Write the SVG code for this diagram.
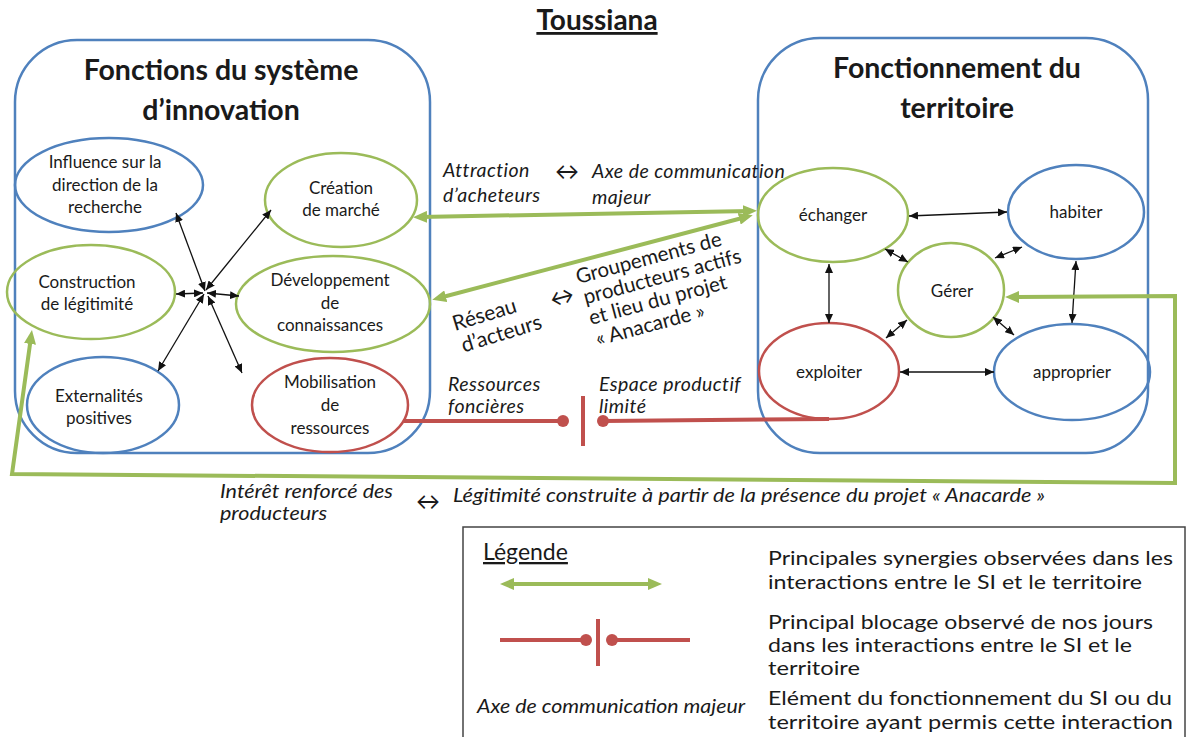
<svg xmlns="http://www.w3.org/2000/svg" width="1187" height="737" viewBox="0 0 1187 737">
<defs>
<style>
text{font-family:Lato,"Liberation Sans",sans-serif;fill:#1a1a1a}
.n{font-size:17px;text-anchor:middle}
.h{font-size:28.5px;font-weight:bold;text-anchor:middle}
.it{font-size:19.5px;font-style:italic;letter-spacing:0.45px}
.bt{font-size:19.5px;font-style:italic}
.lg{font-size:19.5px}
.ar{font-size:24px;text-anchor:middle}
.box{fill:none;stroke:#4F81BD;stroke-width:2.5}
.eg{fill:none;stroke:#9BBB59;stroke-width:2.5}
.eb{fill:none;stroke:#4F81BD;stroke-width:2.5}
.er{fill:none;stroke:#C0504D;stroke-width:2.5}
.bk{stroke:#111;stroke-width:1.3;fill:none;marker-start:url(#ab);marker-end:url(#ab)}
.gr{stroke:#9BBB59;stroke-width:4;fill:none}
.rd{stroke:#C0504D;stroke-width:4;fill:none}
.dot{fill:#C0504D}
</style>
<marker id="ab" viewBox="0 0 9 8" refX="9" refY="4" markerWidth="9" markerHeight="8" markerUnits="userSpaceOnUse" orient="auto-start-reverse">
<path d="M0,0 L9,4 L0,8 z" fill="#111"/>
</marker>
<marker id="ag" viewBox="0 0 14 12" refX="7" refY="6" markerWidth="14" markerHeight="12" markerUnits="userSpaceOnUse" orient="auto-start-reverse">
<path d="M0,0 L14,6 L0,12 z" fill="#9BBB59"/>
</marker>
</defs>

<text x="597" y="30" font-size="28" font-weight="bold" text-anchor="middle" text-decoration="underline">Toussiana</text>

<g id="box-si">
<rect class="box" x="15" y="40" width="415" height="413" rx="62" ry="62"/>
<text class="h" x="221" y="80">Fonctions du système</text>
<text class="h" x="221" y="120">d’innovation</text>
</g>
<g id="box-territoire">
<rect class="box" x="758" y="38" width="390" height="415" rx="62" ry="62"/>
<text class="h" x="957" y="78">Fonctionnement du</text>
<text class="h" x="957" y="118">territoire</text>
</g>

<g id="influence">
<ellipse class="eb" cx="109" cy="185" rx="94" ry="47"/>
<text class="n" x="105" y="168">Influence sur la</text>
<text class="n" x="105" y="191">direction de la</text>
<text class="n" x="105" y="213">recherche</text>
</g>
<g id="creation">
<ellipse class="eg" cx="341" cy="200" rx="76" ry="47"/>
<text class="n" x="341" y="194">Création</text>
<text class="n" x="341" y="216">de marché</text>
</g>
<g id="construction">
<ellipse class="eg" cx="91" cy="292" rx="84" ry="47"/>
<text class="n" x="87" y="288">Construction</text>
<text class="n" x="87" y="310">de légitimité</text>
</g>
<g id="developpement">
<ellipse class="eg" cx="333" cy="304" rx="97" ry="48"/>
<text class="n" x="330" y="286">Développement</text>
<text class="n" x="330" y="309">de</text>
<text class="n" x="330" y="331">connaissances</text>
</g>
<g id="externalites">
<ellipse class="eb" cx="103" cy="405" rx="76" ry="48"/>
<text class="n" x="99" y="402">Externalités</text>
<text class="n" x="99" y="424">positives</text>
</g>
<g id="mobilisation">
<ellipse class="er" cx="330" cy="405" rx="78" ry="47"/>
<text class="n" x="330" y="388">Mobilisation</text>
<text class="n" x="330" y="411">de</text>
<text class="n" x="330" y="434">ressources</text>
</g>

<g id="echanger">
<ellipse class="eg" cx="833" cy="215" rx="75" ry="47"/>
<text class="n" x="833" y="221">échanger</text>
</g>
<g id="habiter">
<ellipse class="eb" cx="1076" cy="212" rx="68" ry="47"/>
<text class="n" x="1076" y="218">habiter</text>
</g>
<g id="gerer">
<ellipse class="eg" cx="951" cy="290" rx="53" ry="47"/>
<text class="n" x="952" y="297" font-size="20.5">Gérer</text>
</g>
<g id="exploiter">
<ellipse class="er" cx="829" cy="371" rx="70" ry="48"/>
<text class="n" x="829" y="378">exploiter</text>
</g>
<g id="approprier">
<ellipse class="eb" cx="1072" cy="372" rx="78" ry="48"/>
<text class="n" x="1072" y="378">approprier</text>
</g>

<g id="connectors">
<line class="bk" x1="205" y1="291" x2="176" y2="213"/>
<line class="bk" x1="206" y1="290" x2="271" y2="210"/>
<line class="bk" x1="203" y1="293" x2="176" y2="294"/>
<line class="bk" x1="207" y1="293" x2="239" y2="296"/>
<line class="bk" x1="204" y1="294" x2="158" y2="371"/>
<line class="bk" x1="208" y1="296" x2="242" y2="373"/>

<line class="bk" x1="909" y1="216" x2="1007" y2="212"/>
<line class="bk" x1="885" y1="249" x2="908" y2="262"/>
<line class="bk" x1="995" y1="258" x2="1022" y2="247"/>
<line class="bk" x1="829" y1="264" x2="829" y2="323"/>
<line class="bk" x1="907" y1="320" x2="886" y2="338"/>
<line class="bk" x1="993" y1="317" x2="1014" y2="335"/>
<line class="bk" x1="1076" y1="261" x2="1072" y2="323"/>
<line class="bk" x1="900" y1="372" x2="994" y2="372"/>

<line class="gr" x1="420" y1="217" x2="750" y2="211" marker-start="url(#ag)" marker-end="url(#ag)"/>
<line class="gr" x1="439" y1="298" x2="746" y2="217" marker-start="url(#ag)" marker-end="url(#ag)"/>
<polyline class="gr" points="1012,297 1175,296 1175,483 12,474 31,337" marker-start="url(#ag)" marker-end="url(#ag)"/>

<line class="rd" x1="404" y1="421" x2="563" y2="421"/>
<circle class="dot" cx="563" cy="421" r="6"/>
<line class="rd" x1="583" y1="396" x2="583" y2="446"/>
<circle class="dot" cx="603" cy="421" r="6"/>
<line class="rd" x1="603" y1="421" x2="829" y2="419"/>
</g>

<g id="labels">
<text class="it" x="443" y="177">Attraction</text>
<text class="it" x="443" y="202">d’acheteurs</text>
<text class="ar" x="567" y="180">↔</text>
<text class="it" x="592" y="178">Axe de communication</text>
<text class="it" x="592" y="204">majeur</text>

<g transform="translate(455,331) rotate(-17)">
<text font-size="21" x="0" y="0">Réseau</text>
<text font-size="21" x="2" y="23">d’acteurs</text>
</g>
<text class="ar" x="0" y="0" transform="translate(564,305) rotate(-15)">↔</text>
<g transform="translate(578,284) rotate(-15)">
<text font-size="20.5" x="0" y="0">Groupements de</text>
<text font-size="20.5" x="2" y="21.5">producteurs actifs</text>
<text font-size="20.5" x="2" y="43">et lieu du projet</text>
<text font-size="20.5" x="3" y="65">« Anacarde »</text>
</g>

<text class="it" x="448" y="391">Ressources</text>
<text class="it" x="448" y="413">foncières</text>
<text class="it" x="599" y="391">Espace productif</text>
<text class="it" x="599" y="413">limité</text>

<text class="bt" x="220" y="498" textLength="173" lengthAdjust="spacingAndGlyphs">Intérêt renforcé des</text>
<text class="bt" x="220" y="520" textLength="107" lengthAdjust="spacingAndGlyphs">producteurs</text>
<text class="ar" x="428" y="510">↔</text>
<text class="bt" x="453" y="502" textLength="592" lengthAdjust="spacingAndGlyphs">Légitimité construite à partir de la présence du projet « Anacarde »</text>
</g>

<g id="legende">
<rect x="463" y="527" width="722" height="215" fill="none" stroke="#444" stroke-width="1.5"/>
<text x="483" y="560" font-size="23" text-decoration="underline">Légende</text>
<line class="gr" x1="507" y1="584" x2="655" y2="584" marker-start="url(#ag)" marker-end="url(#ag)"/>
<line class="rd" x1="500" y1="640" x2="586" y2="640"/>
<circle class="dot" cx="586" cy="640" r="6"/>
<line class="rd" x1="598" y1="619" x2="598" y2="666"/>
<circle class="dot" cx="612" cy="640" r="6"/>
<line class="rd" x1="612" y1="640" x2="690" y2="640"/>
<text x="477" y="713" font-size="18.5" font-style="italic" textLength="268" lengthAdjust="spacingAndGlyphs">Axe de communication majeur</text>
<text class="lg" x="768" y="565" textLength="405" lengthAdjust="spacingAndGlyphs">Principales synergies observées dans les</text>
<text class="lg" x="768" y="589" textLength="374" lengthAdjust="spacingAndGlyphs">interactions entre le SI et le territoire</text>
<text class="lg" x="768" y="629" textLength="385" lengthAdjust="spacingAndGlyphs">Principal blocage observé de nos jours</text>
<text class="lg" x="768" y="652" textLength="364" lengthAdjust="spacingAndGlyphs">dans les interactions entre le SI et le</text>
<text class="lg" x="768" y="675" textLength="92" lengthAdjust="spacingAndGlyphs">territoire</text>
<text class="lg" x="768" y="705" textLength="404" lengthAdjust="spacingAndGlyphs">Elément du fonctionnement  du SI ou du</text>
<text class="lg" x="768" y="729" textLength="405" lengthAdjust="spacingAndGlyphs">territoire ayant  permis cette interaction</text>
</g>
</svg>
